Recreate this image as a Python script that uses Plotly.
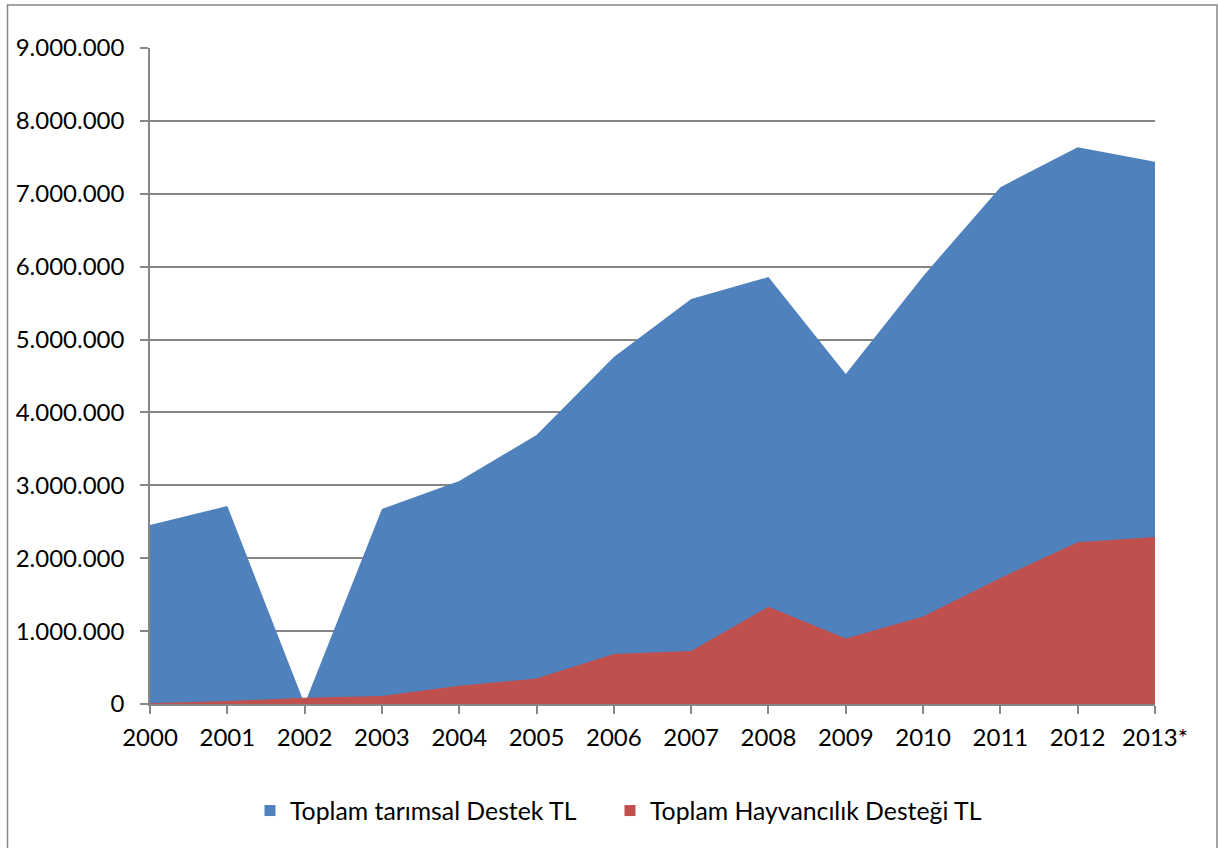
import plotly.graph_objects as go

years = ["2000", "2001", "2002", "2003", "2004", "2005", "2006", "2007",
         "2008", "2009", "2010", "2011", "2012", "2013*"]
toplam_tarimsal = [2455000, 2716000, 0, 2675000, 3060000, 3690000, 4760000,
                   5556000, 5857000, 4527000, 5870000, 7090000, 7640000, 7440000]
toplam_hayvancilik = [10000, 40000, 87000, 110000, 250000, 350000, 686000,
                      727000, 1335000, 900000, 1200000, 1730000, 2220000, 2290000]
y_ticks = [0, 1000000, 2000000, 3000000, 4000000, 5000000, 6000000, 7000000,
           8000000, 9000000]

names = ["Toplam tarımsal Destek TL", "Toplam Hayvancılık Desteği TL"]
colors = ["#4F81BD", "#C0504D"]
legend_ids = ["legend", "legend2"]

xs = list(range(len(years)))
FONT = "Lato"

fig = go.Figure()
for vals, nm, col in zip([toplam_tarimsal, toplam_hayvancilik], names, colors):
    fig.add_trace(go.Scatter(
        x=xs, y=vals, name=nm, showlegend=False,
        mode="lines", line=dict(width=0, color=col),
        fill="tozeroy", fillcolor=col))
for nm, col, lg in zip(names, colors, legend_ids):
    fig.add_trace(go.Scatter(
        x=[None], y=[None], name=nm, mode="markers", legend=lg,
        marker=dict(symbol="square", size=11, color=col)))

leg_common = dict(orientation="h", xanchor="left", y=-0.163, yanchor="middle",
                  font=dict(family=FONT, size=24.8), itemwidth=30,
                  bgcolor="rgba(0,0,0,0)")

fig.update_layout(
    width=1218, height=848,
    margin=dict(l=150, r=63, t=48, b=144),
    paper_bgcolor="white", plot_bgcolor="white",
    separators=",.",
    font=dict(family=FONT, size=24, color="black"),
    showlegend=True,
    legend=dict(x=0.0995, **leg_common),
    legend2=dict(x=0.4577, **leg_common),
    xaxis=dict(range=[0, 13], tickmode="array", tickvals=xs, ticktext=years,
               showgrid=False, zeroline=False, showline=True, linecolor="#868686",
               linewidth=1.5, ticks="outside", ticklen=8, tickcolor="#868686",
               tickwidth=1.5, ticklabelstandoff=3, tickfont=dict(family=FONT, size=24)),
    yaxis=dict(range=[0, 9000000], tickmode="array", tickvals=y_ticks,
               tickformat=",d", showgrid=True, gridcolor="#868686", gridwidth=1.5,
               zeroline=False, showline=True, linecolor="#868686", linewidth=1.5,
               ticks="outside", ticklen=8, tickcolor="#868686", tickwidth=1.5,
               ticklabelstandoff=11, tickfont=dict(family=FONT, size=24)),
)

fig.add_shape(type="rect", xref="paper", yref="paper",
              x0=(7.5 - 150) / 1005, x1=(1217 - 150) / 1005,
              y0=-0.4, y1=(704 - 5) / 656,
              line=dict(color="#868686", width=1.5), layer="below")

fig.write_html("out.html", config={"displayModeBar": False},
               post_script="document.body.style.margin='0';")
